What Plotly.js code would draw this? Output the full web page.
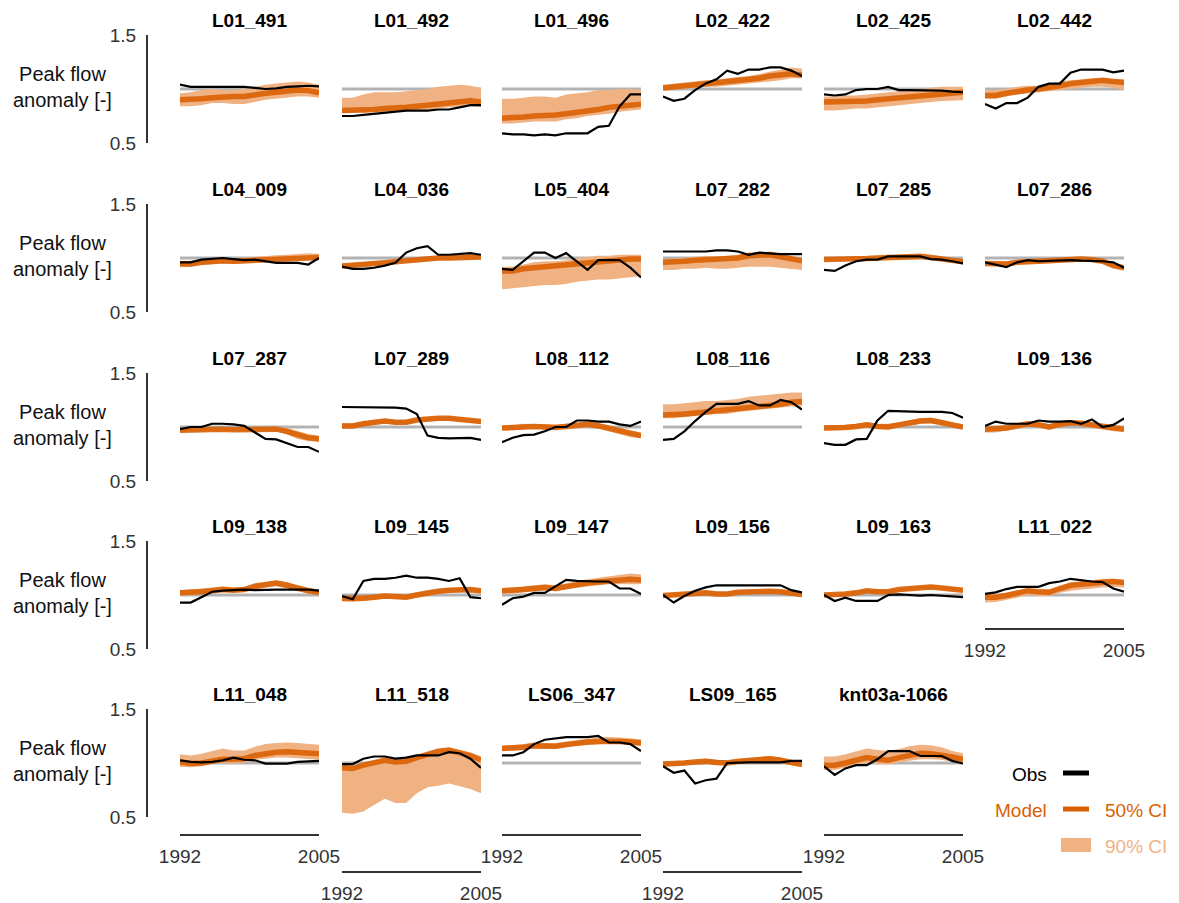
<!DOCTYPE html>
<html>
<head>
<meta charset="utf-8">
<script src="https://cdn.plot.ly/plotly-3.0.1.min.js"></script>
<style>
  html, body { margin: 0; padding: 0; background: #fff; }
  #plot { width: 1179px; height: 903px; }
</style>
</head>
<body>
<div id="plot"></div>
<script>
// ---- data ----
const years = [1992, 1993, 1994, 1995, 1996, 1997, 1998, 1999, 2000, 2001, 2002, 2003, 2004, 2005];
const xTickText = ['1992', '2005'];
const yTickVals = [0.5, 1.5];
const yTickText = ['0.5', '1.5'];

const stations = [
  'L01_491', 'L01_492', 'L01_496', 'L02_422', 'L02_425', 'L02_442',
  'L04_009', 'L04_036', 'L05_404', 'L07_282', 'L07_285', 'L07_286',
  'L07_287', 'L07_289', 'L08_112', 'L08_116', 'L08_233', 'L09_136',
  'L09_138', 'L09_145', 'L09_147', 'L09_156', 'L09_163', 'L11_022',
  'L11_048', 'L11_518', 'LS06_347', 'LS09_165', 'knt03a-1066'
];

// observed peak flow anomaly
const obs = [
  [1.04,1.02,1.02,1.02,1.02,1.015,1.02,1.01,1.0,1.005,1.02,1.025,1.03,1.025],
  [0.75,0.75,0.76,0.77,0.78,0.79,0.80,0.80,0.80,0.81,0.81,0.83,0.85,0.85],
  [0.59,0.58,0.58,0.57,0.58,0.57,0.59,0.59,0.59,0.65,0.66,0.84,0.95,0.95],
  [0.93,0.89,0.91,0.99,1.05,1.09,1.17,1.14,1.18,1.18,1.20,1.20,1.17,1.12],
  [0.95,0.94,0.95,0.99,1.0,1.0,1.02,0.99,0.99,0.99,0.99,0.985,0.975,0.97],
  [0.86,0.82,0.87,0.87,0.92,1.02,1.05,1.05,1.15,1.18,1.18,1.18,1.155,1.17],
  [0.96,0.96,0.985,0.99,1.0,0.99,0.98,0.985,0.97,0.955,0.955,0.955,0.94,1.0],
  [0.92,0.90,0.90,0.91,0.93,0.955,1.05,1.09,1.11,1.03,1.03,1.035,1.045,1.03],
  [0.90,0.89,0.97,1.05,1.05,1.0,1.045,0.97,0.89,0.98,0.98,0.98,0.91,0.82],
  [1.06,1.06,1.06,1.06,1.06,1.07,1.07,1.06,1.03,1.05,1.04,1.035,1.035,1.035],
  [0.89,0.88,0.93,0.97,0.985,0.985,1.015,1.015,1.015,1.015,0.99,0.985,0.97,0.95],
  [0.96,0.94,0.915,0.96,0.98,0.97,0.975,0.98,0.98,0.975,0.975,0.97,0.96,0.91],
  [0.98,1.0,1.0,1.03,1.03,1.025,1.01,0.95,0.89,0.885,0.85,0.815,0.815,0.77],
  [1.185,1.185,1.18,1.18,1.18,1.18,1.17,1.12,0.92,0.90,0.895,0.90,0.90,0.88],
  [0.86,0.90,0.925,0.93,0.96,1.0,1.0,1.06,1.06,1.05,1.05,1.025,1.01,1.05],
  [0.88,0.89,0.96,1.055,1.14,1.215,1.215,1.215,1.24,1.20,1.20,1.25,1.23,1.16],
  [0.85,0.835,0.835,0.885,0.89,1.06,1.15,1.145,1.14,1.14,1.14,1.14,1.13,1.085],
  [1.01,1.05,1.03,1.03,1.03,1.06,1.05,1.05,1.055,1.03,1.07,1.0,1.02,1.08],
  [0.93,0.93,0.98,1.03,1.04,1.045,1.05,1.045,1.05,1.05,1.05,1.05,1.05,1.04],
  [0.99,0.96,1.13,1.15,1.15,1.16,1.18,1.16,1.16,1.15,1.13,1.155,0.98,0.97],
  [0.91,0.97,0.985,1.02,1.02,1.08,1.14,1.13,1.125,1.125,1.125,1.06,1.06,1.01],
  [1.0,0.93,0.99,1.04,1.07,1.09,1.09,1.09,1.09,1.09,1.09,1.09,1.045,1.025],
  [1.0,0.945,0.975,0.945,0.945,0.945,1.0,1.005,1.0,0.995,1.0,0.995,0.985,0.98],
  [1.01,1.025,1.055,1.075,1.075,1.075,1.11,1.125,1.15,1.135,1.125,1.12,1.06,1.03],
  [1.025,1.01,1.005,1.01,1.025,1.05,1.03,1.025,0.995,0.995,0.995,1.01,1.015,1.02],
  [0.99,0.99,1.04,1.06,1.06,1.04,1.05,1.07,1.07,1.07,1.10,1.09,1.04,0.955],
  [1.07,1.07,1.10,1.175,1.215,1.23,1.24,1.24,1.24,1.25,1.19,1.19,1.175,1.11],
  [0.97,0.91,0.93,0.81,0.84,0.855,1.0,1.005,1.005,1.005,1.005,1.005,1.02,1.02],
  [0.97,0.89,0.95,0.98,0.98,1.035,1.11,1.11,1.11,1.065,1.065,1.065,1.02,0.995]
];

// model median (drawn as the 50% CI band)
const med = [
  [0.90,0.90,0.91,0.92,0.93,0.93,0.93,0.95,0.96,0.97,0.98,0.99,0.985,0.965],
  [0.80,0.80,0.80,0.81,0.82,0.82,0.83,0.84,0.85,0.87,0.88,0.89,0.89,0.88],
  [0.73,0.73,0.74,0.75,0.75,0.76,0.77,0.78,0.80,0.81,0.83,0.84,0.86,0.86],
  [1.01,1.02,1.03,1.04,1.05,1.05,1.07,1.08,1.09,1.10,1.12,1.13,1.14,1.13],
  [0.88,0.88,0.88,0.89,0.89,0.90,0.91,0.92,0.93,0.94,0.95,0.96,0.965,0.97],
  [0.94,0.94,0.96,0.98,0.99,1.0,1.01,1.03,1.05,1.06,1.07,1.08,1.07,1.06],
  [0.945,0.945,0.96,0.97,0.975,0.97,0.975,0.98,0.99,0.995,1.0,1.005,1.01,1.005],
  [0.925,0.93,0.94,0.95,0.955,0.965,0.975,0.985,0.99,1.0,1.0,1.005,1.01,1.01],
  [0.88,0.88,0.90,0.91,0.92,0.92,0.93,0.94,0.95,0.96,0.97,0.98,0.99,0.99],
  [0.96,0.96,0.97,0.98,0.985,0.98,0.985,1.0,1.02,1.02,1.03,1.01,0.99,0.975],
  [0.985,0.985,0.99,0.99,0.995,1.0,1.005,1.01,1.01,1.015,1.005,0.995,0.98,0.965],
  [0.95,0.95,0.945,0.96,0.97,0.97,0.975,0.98,0.99,0.99,0.985,0.97,0.93,0.91],
  [0.97,0.975,0.98,0.98,0.98,0.975,0.975,0.98,0.985,0.98,0.96,0.93,0.90,0.89],
  [1.01,1.01,1.03,1.04,1.055,1.045,1.045,1.065,1.075,1.08,1.08,1.07,1.06,1.05],
  [0.99,0.99,1.0,1.005,1.0,0.995,1.005,1.02,1.025,1.01,0.985,0.96,0.935,0.92],
  [1.11,1.11,1.12,1.13,1.14,1.15,1.15,1.17,1.18,1.19,1.20,1.21,1.23,1.235],
  [0.99,0.99,0.995,1.005,1.02,1.005,1.0,1.02,1.04,1.055,1.06,1.045,1.02,1.0],
  [0.98,0.98,0.99,1.01,1.03,1.02,1.0,1.025,1.04,1.035,1.02,1.0,0.985,0.98],
  [1.02,1.02,1.03,1.04,1.05,1.045,1.05,1.08,1.10,1.11,1.09,1.06,1.04,1.025],
  [0.97,0.965,0.97,0.98,0.99,0.985,0.98,1.0,1.02,1.035,1.045,1.05,1.05,1.04],
  [1.04,1.04,1.05,1.06,1.07,1.06,1.08,1.10,1.11,1.12,1.13,1.14,1.145,1.14],
  [0.995,1.0,1.01,1.02,1.02,1.01,1.01,1.025,1.03,1.035,1.035,1.03,1.02,1.005],
  [1.0,1.0,1.01,1.02,1.04,1.03,1.03,1.05,1.06,1.07,1.075,1.065,1.055,1.045],
  [0.98,0.98,0.995,1.015,1.04,1.03,1.025,1.06,1.09,1.10,1.11,1.125,1.125,1.115],
  [1.01,0.995,1.0,1.02,1.035,1.035,1.04,1.07,1.09,1.10,1.105,1.10,1.095,1.085],
  [0.955,0.95,0.98,1.0,1.025,1.01,1.015,1.05,1.08,1.11,1.12,1.10,1.07,1.03],
  [1.135,1.135,1.145,1.16,1.155,1.155,1.17,1.185,1.195,1.20,1.205,1.20,1.195,1.185],
  [0.99,0.99,1.0,1.01,1.015,1.005,1.0,1.015,1.025,1.035,1.04,1.025,1.0,0.985],
  [0.98,0.98,1.0,1.025,1.05,1.035,1.025,1.05,1.07,1.09,1.085,1.075,1.055,1.035]
];

// model 90% CI, lower bound
const lo90 = [
  [0.84,0.84,0.85,0.87,0.87,0.86,0.86,0.88,0.90,0.91,0.92,0.93,0.93,0.92],
  [0.78,0.78,0.78,0.79,0.79,0.80,0.80,0.80,0.81,0.82,0.83,0.83,0.84,0.83],
  [0.68,0.68,0.69,0.70,0.70,0.70,0.72,0.73,0.75,0.76,0.77,0.79,0.80,0.81],
  [0.99,1.0,1.0,1.01,1.02,1.02,1.03,1.04,1.05,1.06,1.07,1.08,1.10,1.10],
  [0.80,0.80,0.81,0.82,0.82,0.83,0.84,0.85,0.86,0.87,0.88,0.89,0.895,0.895],
  [0.91,0.91,0.93,0.95,0.96,0.97,0.98,0.99,1.0,1.01,1.02,1.02,1.01,0.99],
  [0.92,0.92,0.935,0.945,0.95,0.945,0.95,0.96,0.965,0.97,0.975,0.98,0.985,0.985],
  [0.91,0.915,0.925,0.935,0.94,0.95,0.96,0.97,0.975,0.985,0.99,0.99,0.995,0.995],
  [0.71,0.72,0.73,0.74,0.75,0.75,0.76,0.78,0.79,0.80,0.80,0.81,0.82,0.83],
  [0.89,0.89,0.90,0.90,0.91,0.90,0.90,0.91,0.92,0.92,0.92,0.91,0.90,0.89],
  [0.975,0.975,0.98,0.98,0.985,0.99,0.995,1.0,1.0,1.0,0.99,0.98,0.965,0.95],
  [0.935,0.935,0.93,0.945,0.955,0.955,0.96,0.965,0.975,0.975,0.97,0.95,0.91,0.89],
  [0.955,0.96,0.965,0.965,0.965,0.96,0.96,0.965,0.97,0.96,0.93,0.89,0.87,0.86],
  [0.99,0.99,1.01,1.02,1.035,1.025,1.025,1.045,1.055,1.06,1.06,1.05,1.04,1.03],
  [0.97,0.97,0.98,0.985,0.98,0.975,0.985,1.0,1.0,0.985,0.955,0.93,0.905,0.895],
  [1.08,1.08,1.09,1.10,1.11,1.12,1.12,1.14,1.15,1.16,1.17,1.18,1.19,1.19],
  [0.97,0.97,0.975,0.985,1.0,0.985,0.98,1.0,1.015,1.03,1.035,1.02,1.0,0.985],
  [0.95,0.95,0.965,0.985,1.0,0.995,0.975,1.0,1.015,1.01,0.995,0.975,0.96,0.955],
  [0.995,0.995,1.01,1.02,1.03,1.025,1.03,1.05,1.07,1.08,1.06,1.035,1.02,1.005],
  [0.94,0.935,0.945,0.955,0.965,0.96,0.96,0.98,0.995,1.01,1.02,1.025,1.02,1.015],
  [1.015,1.015,1.025,1.035,1.045,1.035,1.055,1.07,1.08,1.09,1.10,1.10,1.10,1.10],
  [0.975,0.98,0.99,0.995,1.0,0.99,0.99,1.0,1.01,1.015,1.015,1.01,1.0,0.985],
  [0.99,0.99,1.0,1.01,1.025,1.015,1.015,1.035,1.045,1.055,1.06,1.05,1.04,1.03],
  [0.93,0.935,0.955,0.975,1.0,0.99,0.99,1.02,1.04,1.05,1.06,1.07,1.075,1.07],
  [0.965,0.96,0.97,0.99,1.0,0.995,1.0,1.03,1.04,1.05,1.05,1.045,1.04,1.03],
  [0.54,0.53,0.55,0.61,0.67,0.63,0.63,0.72,0.775,0.79,0.81,0.785,0.76,0.72],
  [1.11,1.11,1.12,1.135,1.13,1.13,1.145,1.16,1.17,1.175,1.18,1.175,1.17,1.16],
  [0.97,0.97,0.98,0.99,0.995,0.985,0.98,0.99,1.0,1.01,1.015,1.0,0.98,0.965],
  [0.935,0.935,0.955,0.98,1.0,0.99,0.985,1.0,1.02,1.035,1.035,1.03,1.01,1.0]
];

// model 90% CI, upper bound
const hi90 = [
  [0.96,0.97,0.99,1.0,0.99,0.99,1.0,1.02,1.04,1.05,1.06,1.07,1.06,1.04],
  [0.92,0.92,0.95,0.97,0.97,0.97,0.98,0.99,1.0,1.02,1.03,1.04,1.03,1.01],
  [0.91,0.91,0.92,0.93,0.93,0.92,0.95,0.96,0.97,0.99,0.99,1.0,1.0,0.99],
  [1.04,1.05,1.06,1.07,1.08,1.08,1.10,1.11,1.12,1.14,1.16,1.18,1.20,1.19],
  [0.93,0.93,0.94,0.94,0.95,0.96,0.97,0.98,0.99,1.0,1.01,1.02,1.02,1.02],
  [0.985,0.99,1.0,1.02,1.03,1.03,1.05,1.07,1.08,1.09,1.10,1.10,1.09,1.09],
  [0.975,0.975,0.985,0.995,1.0,1.0,1.0,1.01,1.02,1.025,1.03,1.04,1.045,1.04],
  [0.945,0.95,0.96,0.965,0.975,0.985,0.995,1.0,1.01,1.02,1.025,1.03,1.035,1.03],
  [0.92,0.92,0.94,0.96,0.97,0.97,0.98,1.0,1.01,1.02,1.02,1.03,1.03,1.03],
  [0.985,0.99,1.0,1.01,1.02,1.01,1.02,1.03,1.05,1.05,1.06,1.04,1.02,1.0],
  [0.995,0.995,1.0,1.0,1.005,1.01,1.015,1.02,1.025,1.025,1.015,1.005,0.99,0.975],
  [0.965,0.965,0.96,0.975,0.985,0.985,0.99,0.995,1.0,1.0,0.995,0.985,0.95,0.925],
  [0.985,0.99,0.995,0.995,0.995,0.99,0.99,0.995,1.0,1.0,0.99,0.96,0.935,0.92],
  [1.035,1.035,1.05,1.06,1.075,1.065,1.065,1.085,1.095,1.10,1.10,1.09,1.08,1.07],
  [1.015,1.015,1.03,1.03,1.025,1.02,1.03,1.045,1.05,1.04,1.015,0.99,0.965,0.95],
  [1.21,1.21,1.22,1.23,1.24,1.24,1.25,1.26,1.28,1.29,1.30,1.31,1.32,1.32],
  [1.015,1.015,1.02,1.03,1.045,1.03,1.03,1.045,1.065,1.08,1.085,1.07,1.045,1.02],
  [1.0,1.0,1.015,1.035,1.05,1.045,1.025,1.05,1.06,1.055,1.04,1.02,1.005,1.0],
  [1.045,1.05,1.06,1.07,1.08,1.07,1.075,1.11,1.125,1.135,1.12,1.085,1.065,1.045],
  [0.985,0.98,0.99,1.0,1.01,1.005,1.005,1.025,1.045,1.055,1.065,1.07,1.065,1.055],
  [1.065,1.065,1.08,1.09,1.10,1.09,1.11,1.13,1.145,1.16,1.175,1.19,1.20,1.19],
  [1.015,1.015,1.025,1.035,1.04,1.03,1.025,1.04,1.045,1.05,1.05,1.045,1.035,1.02],
  [1.01,1.01,1.02,1.035,1.055,1.045,1.045,1.065,1.075,1.085,1.09,1.08,1.07,1.06],
  [1.01,1.01,1.02,1.035,1.06,1.05,1.05,1.08,1.11,1.125,1.14,1.15,1.15,1.14],
  [1.08,1.07,1.085,1.11,1.135,1.115,1.115,1.15,1.175,1.185,1.19,1.185,1.18,1.17],
  [0.99,0.975,1.0,1.02,1.04,1.025,1.03,1.07,1.10,1.12,1.13,1.11,1.08,1.04],
  [1.165,1.165,1.175,1.19,1.185,1.185,1.20,1.215,1.225,1.235,1.24,1.235,1.23,1.22],
  [1.01,1.01,1.02,1.03,1.04,1.03,1.025,1.04,1.05,1.06,1.065,1.05,1.025,1.01],
  [1.06,1.06,1.08,1.105,1.135,1.12,1.11,1.13,1.155,1.17,1.165,1.145,1.11,1.09]
];

// ---- page geometry (pixels) ----
const W = 1179, H = 903;
const colLeft = [180, 342, 502, 663, 824, 985];
const panelW = 139;
const rowTop = [35, 204, 373, 541, 709];   // pixel row of y = 1.5
const panelH = 108;                          // pixels from 1.5 to 0.5
const yAxisX = 146;
// panels that carry an x axis, and the pixel row of that axis line
const xAxisRow = { 23: 628, 24: 834, 25: 871, 26: 834, 27: 871, 28: 834 };

const FONT = 'Arial, "Liberation Sans", sans-serif';
const ORANGE = '#d95f02';
const LIGHT = '#f0b283';
const AXIS = '#333333';

function px(x) { return x / W; }
function py(y) { return 1 - y / H; }

const data = [];
const layout = {
  width: W, height: H,
  margin: { l: 0, r: 0, t: 0, b: 0 },
  showlegend: false,
  hovermode: false,
  paper_bgcolor: '#ffffff',
  plot_bgcolor: 'rgba(0,0,0,0)',
  font: { family: FONT, color: AXIS },
  annotations: [],
  shapes: []
};

stations.forEach((name, i) => {
  const row = Math.floor(i / 6), col = i % 6;
  const k = i + 1;
  const xa = 'x' + k, ya = 'y' + k;
  const xKey = 'xaxis' + k, yKey = 'yaxis' + k;

  const x0 = colLeft[col], y15 = rowTop[row];
  const xAx = {
    domain: [px(x0), px(x0 + panelW)],
    range: [years[0], years[years.length - 1]],
    anchor: ya,
    visible: false,
    fixedrange: true
  };
  if (xAxisRow[i] !== undefined) {
    Object.assign(xAx, {
      visible: true,
      anchor: 'free',
      position: py(xAxisRow[i]),
      showline: true, linecolor: AXIS, linewidth: 1.6,
      showgrid: false, zeroline: false,
      tickmode: 'array',
      tickvals: [years[0], years[years.length - 1]],
      ticktext: xTickText,
      ticks: 'inside', ticklen: 4, tickwidth: 1.6, tickcolor: AXIS,
      ticklabelstandoff: 5,
      tickfont: { family: FONT, size: 19, color: AXIS }
    });
  }
  layout[xKey] = xAx;

  const yAx = {
    domain: [py(y15 + panelH), py(y15)],
    range: [0.5, 1.5],
    anchor: xa,
    visible: false,
    fixedrange: true
  };
  if (col === 0) {
    Object.assign(yAx, {
      visible: true,
      anchor: 'free',
      position: px(yAxisX),
      showline: true, linecolor: AXIS, linewidth: 1.6,
      showgrid: false, zeroline: false,
      tickmode: 'array', tickvals: yTickVals, ticktext: yTickText,
      ticks: 'inside', ticklen: 4, tickwidth: 1.6, tickcolor: AXIS,
      ticklabelstandoff: 6,
      tickfont: { family: FONT, size: 19, color: AXIS }
    });
    layout.annotations.push({
      xref: 'paper', yref: 'paper',
      x: px(62), y: py(y15 + 52),
      xanchor: 'center', yanchor: 'middle',
      text: 'Peak flow<br>anomaly [-]',
      showarrow: false,
      font: { family: FONT, size: 20, color: '#111' }
    });
  }
  layout[yKey] = yAx;

  // reference line at anomaly = 1
  layout.shapes.push({
    type: 'line', xref: xa, yref: ya, layer: 'below',
    x0: years[0], x1: years[years.length - 1], y0: 1, y1: 1,
    line: { color: '#b3b3b3', width: 3 }
  });

  // panel title
  layout.annotations.push({
    xref: 'paper', yref: 'paper',
    x: px(x0 + panelW / 2), y: py(y15 - 14.5),
    xanchor: 'center', yanchor: 'middle',
    text: '<b>' + name + '</b>',
    showarrow: false,
    font: { family: FONT, size: 19, color: '#000' }
  });

  // 90% CI band as a closed polygon
  data.push({
    x: years.concat(years.slice().reverse()),
    y: hi90[i].concat(lo90[i].slice().reverse()),
    xaxis: xa, yaxis: ya,
    type: 'scatter', mode: 'lines',
    fill: 'toself', fillcolor: LIGHT,
    line: { width: 0, color: LIGHT },
    hoverinfo: 'skip'
  });
  // 50% CI
  data.push({
    x: years, y: med[i],
    xaxis: xa, yaxis: ya,
    type: 'scatter', mode: 'lines',
    line: { color: ORANGE, width: 5.5 },
    opacity: 0.9,
    hoverinfo: 'skip'
  });
  // observations
  data.push({
    x: years, y: obs[i],
    xaxis: xa, yaxis: ya,
    type: 'scatter', mode: 'lines',
    line: { color: '#000000', width: 2.2 },
    hoverinfo: 'skip'
  });
});

// ---- hand-made legend (bottom right) ----
layout.annotations.push(
  { xref: 'paper', yref: 'paper', x: px(1049), y: py(774), xanchor: 'right', yanchor: 'middle',
    text: 'Obs', showarrow: false, font: { family: FONT, size: 19, color: '#000' } },
  { xref: 'paper', yref: 'paper', x: px(1049), y: py(810), xanchor: 'right', yanchor: 'middle',
    text: 'Model', showarrow: false, font: { family: FONT, size: 19, color: ORANGE } },
  { xref: 'paper', yref: 'paper', x: px(1103), y: py(810), xanchor: 'left', yanchor: 'middle',
    text: '50% CI', showarrow: false, font: { family: FONT, size: 19, color: ORANGE } },
  { xref: 'paper', yref: 'paper', x: px(1103), y: py(846), xanchor: 'left', yanchor: 'middle',
    text: '90% CI', showarrow: false, font: { family: FONT, size: 19, color: LIGHT } }
);
layout.shapes.push(
  { type: 'line', xref: 'paper', yref: 'paper', x0: px(1063), x1: px(1089), y0: py(773), y1: py(773),
    line: { color: '#000', width: 5 } },
  { type: 'line', xref: 'paper', yref: 'paper', x0: px(1063), x1: px(1089), y0: py(809), y1: py(809),
    line: { color: ORANGE, width: 5 } },
  { type: 'rect', xref: 'paper', yref: 'paper', x0: px(1061), x1: px(1091), y0: py(852), y1: py(838),
    fillcolor: LIGHT, line: { width: 0 } }
);

Plotly.newPlot('plot', data, layout, { displayModeBar: false, staticPlot: true });
</script>
</body>
</html>
